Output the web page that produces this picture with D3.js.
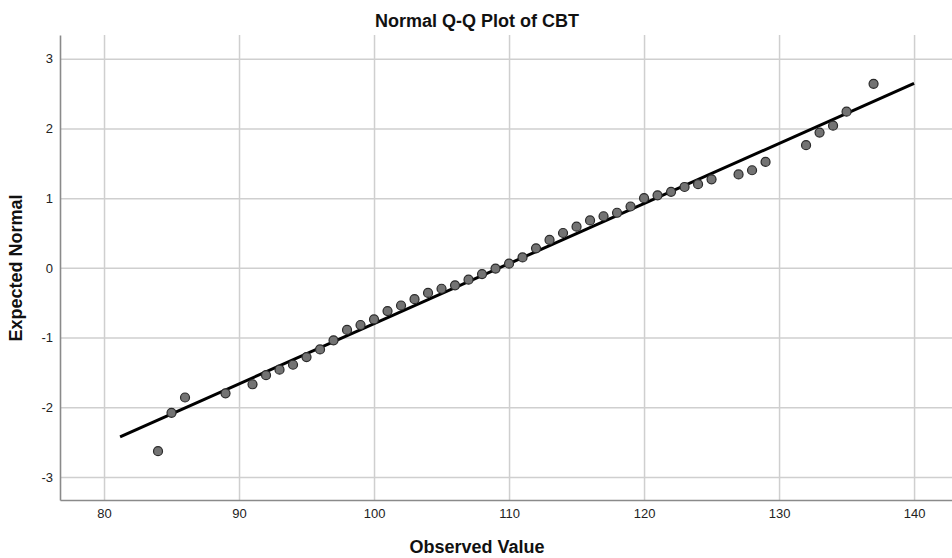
<!DOCTYPE html>
<html>
<head>
<meta charset="utf-8">
<script src="https://cdn.jsdelivr.net/npm/d3@7"></script>
<style>
    body { margin: 0; background: #fff; }
    text { font-family: "Liberation Sans", Arial, sans-serif; }
</style>
</head>
<body>
<div id="chart"></div>
<script>
// Observed CBT scores and their expected normal values
const observed = [84, 85, 86, 89, 91, 92, 93, 94, 95, 96, 97, 98, 99, 100, 101, 102, 103, 104, 105, 106,
    107, 108, 109, 110, 111, 112, 113, 114, 115, 116, 117, 118, 119, 120, 121, 122, 123, 124, 125, 127,
    128, 129, 132, 133, 134, 135, 137];
const expected = [-2.63, -2.08, -1.86, -1.80, -1.67, -1.54, -1.46, -1.39, -1.28, -1.17, -1.04, -0.89, -0.82,
    -0.74, -0.62, -0.54, -0.45, -0.36, -0.30, -0.25, -0.17, -0.09, -0.01, 0.06, 0.15, 0.28, 0.40, 0.50,
    0.59, 0.68, 0.74, 0.79, 0.88, 1.00, 1.04, 1.09, 1.16, 1.20, 1.27, 1.34, 1.40, 1.52, 1.76, 1.94, 2.04,
    2.24, 2.64];

// Reference line: z = (x - mean) / sd
const lineMean = 109.3;
const lineSd = 11.6;
const lineX = [81.19, 140];

// Axis ticks and domains
const xTicks = [80, 90, 100, 110, 120, 130, 140];
const yTicks = [-3, -2, -1, 0, 1, 2, 3];
const xDomain = [76.74, 142.81];
const yDomain = [-3.33, 3.34];

// Set dimensions and margins for the chart
const fullWidth = 952, fullHeight = 558;
const margin = { top: 35, right: 0, bottom: 58, left: 60 };
const width = fullWidth - margin.left - margin.right;
const height = fullHeight - margin.top - margin.bottom;

const root = d3.select("#chart")
    .append("svg")
    .attr("width", fullWidth)
    .attr("height", fullHeight);

const svg = root.append("g")
    .attr("transform", `translate(${margin.left},${margin.top})`);

// Scales
const x = d3.scaleLinear().domain(xDomain).range([0, width]);
const y = d3.scaleLinear().domain(yDomain).range([height, 0]);

// X axis with vertical grid lines
const xAxis = svg.append("g")
    .attr("transform", `translate(0,${height})`)
    .call(d3.axisBottom(x).tickValues(xTicks).tickSize(-height).tickSizeOuter(0).tickPadding(9));

// Y axis with horizontal grid lines
const yAxis = svg.append("g")
    .call(d3.axisLeft(y).tickValues(yTicks).tickSize(-width).tickSizeOuter(0).tickPadding(7)
        .tickFormat(d3.format("d")));

[xAxis, yAxis].forEach(g => {
    g.selectAll(".tick line").attr("stroke", "#cfcfcf").attr("stroke-width", 1.5);
    g.selectAll(".tick text")
        .attr("fill", "#222")
        .style("font-size", "13px");
    g.select(".domain").attr("stroke", "#8a8a8a").attr("stroke-width", 1.6).raise();
});
yAxis.selectAll(".tick text").text(d => d < 0 ? "-" + Math.abs(d) : d);

// Reference line
const line = d3.line()
    .x(d => x(d))
    .y(d => y((d - lineMean) / lineSd));

svg.append("path")
    .datum(lineX)
    .attr("d", line)
    .attr("fill", "none")
    .attr("stroke", "#000")
    .attr("stroke-width", 3);

// Points
const points = observed.map((v, i) => [v, expected[i]]);

svg.selectAll(".dot")
    .data(points)
    .enter()
    .append("circle")
    .attr("class", "dot")
    .attr("cx", d => x(d[0]))
    .attr("cy", d => y(d[1]))
    .attr("r", 4.5)
    .attr("fill", "#737373")
    .attr("stroke", "#2a2a2a")
    .attr("stroke-width", 1.2);

// Titles
root.append("text")
    .attr("x", 477)
    .attr("y", 27)
    .attr("text-anchor", "middle")
    .style("font-size", "18px")
    .style("font-weight", "bold")
    .attr("fill", "#111")
    .text("Normal Q-Q Plot of CBT");

root.append("text")
    .attr("x", 477)
    .attr("y", 553)
    .attr("text-anchor", "middle")
    .style("font-size", "18px")
    .style("font-weight", "bold")
    .attr("fill", "#111")
    .text("Observed Value");

root.append("text")
    .attr("transform", "translate(22,268) rotate(-90)")
    .attr("text-anchor", "middle")
    .style("font-size", "18px")
    .style("font-weight", "bold")
    .attr("fill", "#111")
    .text("Expected Normal");
</script>
</body>
</html>
